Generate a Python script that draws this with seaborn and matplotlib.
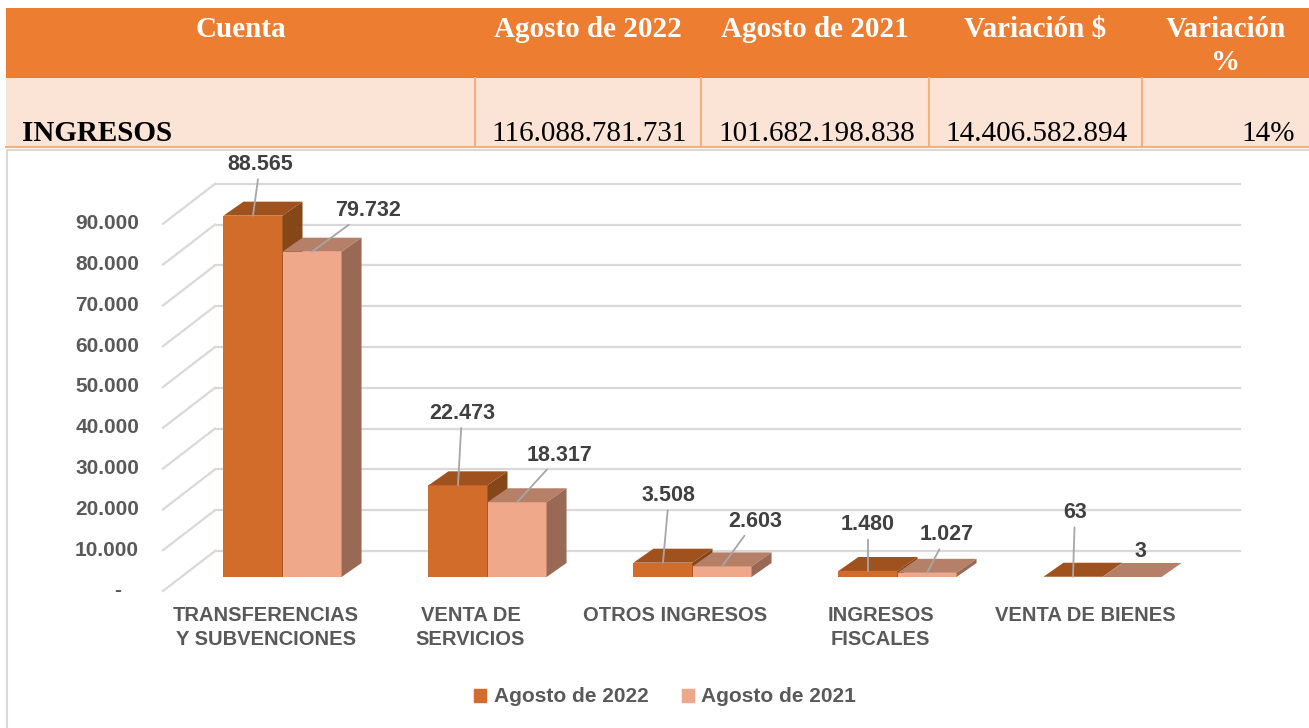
import matplotlib
matplotlib.use("Agg")
import matplotlib.pyplot as plt
from matplotlib.patches import Polygon, Rectangle, Patch
import seaborn as sns
import pandas as pd

# --- DATA ---
CATEGORIAS = ["TRANSFERENCIAS\nY SUBVENCIONES", "VENTA DE\nSERVICIOS",
              "OTROS INGRESOS", "INGRESOS\nFISCALES", "VENTA DE BIENES"]
PERIODOS = ["Agosto de 2022", "Agosto de 2021"]
VALORES_2022 = [88565, 22473, 3508, 1480, 63]
VALORES_2021 = [79732, 18317, 2603, 1027, 3]
Y_TICKS = [0, 10000, 20000, 30000, 40000, 50000, 60000, 70000, 80000, 90000]

TABLA_ENCABEZADO = ["Cuenta", "Agosto de 2022", "Agosto de 2021", "Variación $", "Variación\n%"]
TABLA_FILA = ["INGRESOS", "116.088.781.731", "101.682.198.838", "14.406.582.894", "14%"]

# --- STYLE ---
W, H = 1309, 728
FRENTE = ["#D16C2B", "#F0A88B"]
TAPA = ["#A0521E", "#B67F68"]
LADO = ["#854618", "#9A6955"]
GRIS_TXT = "#595959"
GRIS_LBL = "#404040"
GRID = "#D9D9D9"

# label offsets in pixels (right, up) from bar top
OFFS_2022 = [(7, 51), (4, 72), (6, 67), (0, 46), (2, 64)]
OFFS_2021 = [(56, 41), (43, 47), (33, 45), (20, 38), (8, 25)]

plt.rcParams['font.family'] = ['Liberation Sans', 'DejaVu Sans']

fig = plt.figure(figsize=(W / 100, H / 100), dpi=100)

# --- TABLE ---
tax = fig.add_axes([0, 0, 1, 1], zorder=-1)
tax.set_xlim(0, W)
tax.set_ylim(H, 0)
tax.axis('off')
cols = [6, 475, 701, 929, 1142, 1309]
tax.add_patch(Rectangle((6, 8), W - 6, 70, color="#ED7D31", lw=0))
tax.add_patch(Rectangle((6, 78), W - 6, 69, color="#FBE4D5", lw=0))
for c in cols[1:-1]:
    tax.plot([c, c], [78, 147], color="#F4B083", lw=1.5)
tax.plot([6, W], [147, 147], color="#F4B083", lw=1.5)
# chart frame
tax.plot([7, W], [150, 150], color=GRID, lw=1.5)
tax.plot([7, 7], [150, H], color=GRID, lw=1.5)

serif = ['Liberation Serif', 'DejaVu Serif']
for i, txt in enumerate(TABLA_ENCABEZADO):
    cx = (cols[i] + cols[i + 1]) / 2
    for n, linea in enumerate(txt.split("\n")):
        tax.text(cx, 37 + 33 * n, linea, ha='center', va='baseline', color='white',
                 fontsize=21, fontweight='bold', family=serif)
tax.text(22, 141, TABLA_FILA[0], ha='left', va='baseline', color='black',
         fontsize=21, fontweight='bold', family=serif)
for i, txt in enumerate(TABLA_FILA[1:], start=1):
    tax.text(cols[i + 1] - 14, 141, txt, ha='right', va='baseline',
             color='black', fontsize=21, family=serif)

# --- CHART ---
ax_left, ax_right, ax_base, ax_h = 180, 1205, 577, 408
ax = fig.add_axes([ax_left / W, (H - ax_base) / H, (ax_right - ax_left) / W, ax_h / H])
ax.set_facecolor('none')
XMIN, XMAX, YMAX = -0.5, 4.5, 100000
PX_X = (XMAX - XMIN) / (ax_right - ax_left)
PX_Y = YMAX / ax_h


def off(dx, dy):
    # pixel offset (right, down) -> data offset
    return dx * PX_X, -dy * PX_Y


FRONT = off(-17, 14)
BACK = off(35, -26)
DEPTH = off(20, -14)

df = pd.DataFrame({
    "cuenta": CATEGORIAS * 2,
    "periodo": [PERIODOS[0]] * len(CATEGORIAS) + [PERIODOS[1]] * len(CATEGORIAS),
    "valor": VALORES_2022 + VALORES_2021,
})
sns.barplot(data=df, x="cuenta", y="valor", hue="periodo", hue_order=PERIODOS,
            palette=FRENTE, saturation=1, width=0.576, linewidth=0,
            legend=False, ax=ax)
ax.set_xlim(XMIN, XMAX)
ax.set_ylim(0, YMAX)
ax.axis('off')

# back wall and side wall grid
for v in Y_TICKS:
    ax.plot([XMIN + BACK[0], XMAX + BACK[0]], [v + BACK[1]] * 2,
            color=GRID, lw=1.6, clip_on=False, zorder=0)
    ax.plot([XMIN + FRONT[0], XMIN + BACK[0]], [v + FRONT[1], v + BACK[1]],
            color=GRID, lw=1.6, clip_on=False, zorder=0)
    lbl = "-   " if v == 0 else f"{v:,.0f}".replace(",", ".")
    ax.text(XMIN + (139 - ax_left) * PX_X, v + FRONT[1], lbl, ha='right',
            va='center', fontsize=15, fontweight='bold', color=GRIS_TXT,
            clip_on=False)

# 3D faces and labels
dx, dy = DEPTH
for k, cont in enumerate(ax.containers):
    offs = OFFS_2022 if k == 0 else OFFS_2021
    for j, bar in enumerate(cont):
        x0, w, h = bar.get_x(), bar.get_width(), bar.get_height()
        bar.set_zorder(2 + k)
        top = [(x0, h), (x0 + w, h), (x0 + w + dx, h + dy), (x0 + dx, h + dy)]
        side = [(x0 + w, 0), (x0 + w, h), (x0 + w + dx, h + dy), (x0 + w + dx, dy)]
        ax.add_patch(Polygon(top, closed=True, color=TAPA[k], lw=0,
                             zorder=2.5 + k, clip_on=False))
        ax.add_patch(Polygon(side, closed=True, color=LADO[k], lw=0,
                             zorder=2.5 + k, clip_on=False))
        ox, oy = offs[j]
        props = None
        if (ox ** 2 + oy ** 2) ** 0.5 > 30:
            props = dict(arrowstyle='-', color='#A6A6A6', lw=1.3,
                         shrinkA=1, shrinkB=0)
        ax.annotate(f"{h:,.0f}".replace(",", "."), xy=(x0 + w / 2, h),
                    xytext=(ox, oy), textcoords='offset pixels',
                    ha='center', va='center', fontsize=15.5, fontweight='bold',
                    color=GRIS_LBL, arrowprops=props, zorder=6,
                    annotation_clip=False)

for i, cat in enumerate(CATEGORIAS):
    ax.text(i + FRONT[0], -29 * PX_Y, cat, ha='center', va='top',
            fontsize=14.5, fontweight='bold', color=GRIS_TXT,
            linespacing=1.35, clip_on=False)

handles = [Patch(color=c) for c in FRENTE]
fig.legend(handles, PERIODOS, loc='center', bbox_to_anchor=(665 / W, 1 - 697 / H),
           ncol=2, frameon=False, handlelength=0.6, handleheight=0.6,
           handletextpad=0.35, columnspacing=1.6,
           prop=dict(size=15, weight='bold'), labelcolor=GRIS_TXT)

plt.savefig("out.png", dpi=100)
